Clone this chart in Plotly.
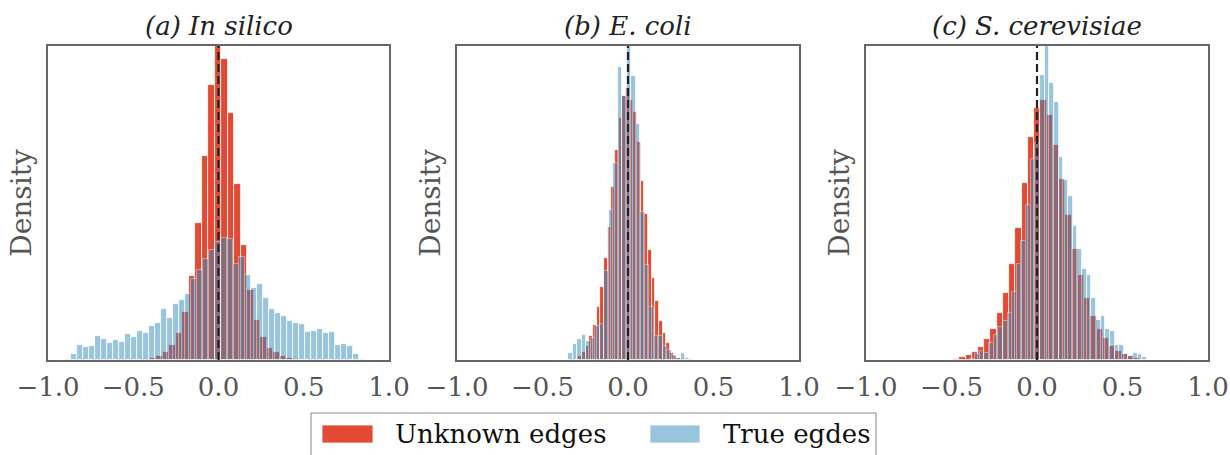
import plotly.graph_objects as go

# ---------------- data (densities) ----------------
panel_titles = ["(a) In silico", "(b) E. coli", "(c) S. cerevisiae"]
series_names = ["Unknown edges", "True egdes"]
tick_vals = [-1.0, -0.5, 0.0, 0.5, 1.0]
tick_text = ["\u22121.0", "\u22120.5", "0.0", "0.5", "1.0"]

# (a) In silico
a_unknown_bin_start = -0.440
a_unknown_bin_width = 0.038
a_unknown = [0.01, 0.03, 0.05, 0.10, 0.19, 0.33, 0.60, 1.04, 1.70, 2.54, 3.41, 3.90,
             3.74, 3.07, 2.19, 1.43, 0.87, 0.50, 0.28, 0.15, 0.10, 0.05, 0.02, 0.01]
a_true_bin_start = -0.898
a_true_bin_width = 0.0352
a_true = [0.01, 0.08, 0.19, 0.16, 0.18, 0.30, 0.26, 0.21, 0.25, 0.22,
          0.32, 0.29, 0.36, 0.34, 0.42, 0.46, 0.63, 0.52, 0.70, 0.75,
          0.82, 1.01, 1.12, 1.25, 1.37, 1.46, 1.51, 1.50, 1.19, 1.28,
          1.06, 0.89, 0.94, 0.77, 0.63, 0.59, 0.55, 0.48, 0.46, 0.45,
          0.35, 0.36, 0.38, 0.33, 0.35, 0.19, 0.20, 0.17, 0.07, 0.01]

# (b) E. coli
b_unknown_bin_start = -0.2915
b_unknown_bin_width = 0.0215
b_unknown = [0.06, 0.13, 0.22, 0.38, 0.56, 0.86, 1.18, 1.64, 2.15, 2.78,
             3.39, 3.90, 4.25, 4.38, 4.19, 3.99, 3.51, 2.88, 2.35, 1.77,
             1.32, 0.95, 0.63, 0.43, 0.28, 0.11, 0.06, 0.04, 0.02]
b_true_bin_start = -0.348
b_true_bin_width = 0.0262
b_true = [0.11, 0.26, 0.34, 0.41, 0.31, 0.36, 0.54, 0.58, 1.44, 2.42,
          3.18, 4.72, 4.25, 5.06, 4.57, 3.81, 2.38, 1.53, 0.86, 0.39,
          0.39, 0.22, 0.16, 0.08, 0.04, 0.11, 0.03, 0.02]

# (c) S. cerevisiae
c_unknown_bin_start = -0.491
c_unknown_bin_width = 0.0365
c_unknown = [0.01, 0.03, 0.05, 0.09, 0.14, 0.23, 0.34, 0.51, 0.73, 1.04,
             1.43, 1.92, 2.42, 2.74, 2.82, 2.66, 2.33, 1.97, 1.57, 1.21,
             0.92, 0.67, 0.48, 0.34, 0.24, 0.15, 0.10, 0.07, 0.04, 0.02]
c_true_bin_start = -0.390
c_true_bin_width = 0.0272
c_true = [0.01, 0.07, 0.10, 0.08, 0.18, 0.27, 0.36, 0.42, 0.51, 0.74,
          1.04, 1.29, 1.68, 2.18, 2.36, 3.09, 3.41, 3.01, 2.80, 2.21,
          1.96, 1.78, 1.45, 1.21, 0.99, 0.92, 0.67, 0.43, 0.48, 0.34,
          0.31, 0.16, 0.16, 0.07, 0.04, 0.08, 0.07, 0.03]

panels = [
    (a_unknown_bin_start, a_unknown_bin_width, a_unknown, a_true_bin_start, a_true_bin_width, a_true),
    (b_unknown_bin_start, b_unknown_bin_width, b_unknown, b_true_bin_start, b_true_bin_width, b_true),
    (c_unknown_bin_start, c_unknown_bin_width, c_unknown, c_true_bin_start, c_true_bin_width, c_true),
]

# ---------------- style ----------------
RED = "#E24A33"
BLUE = "#348ABD"
FRAME = "#666666"
TICK = "#555555"
SERIF = "DejaVu Serif"
W, H = 1230, 455

x_domains = [[48 / W, 389 / W], [457 / W, 799 / W], [866 / W, 1208 / W]]
y_domain = [1 - 360 / H, 1 - 46 / H]

fig = go.Figure()


def centers(start, width, n):
    return [start + width * (i + 0.5) for i in range(n)]


for p, (us, uw, uv, ts, tw, tv) in enumerate(panels):
    xa = "x" if p == 0 else f"x{p + 1}"
    ya = "y" if p == 0 else f"y{p + 1}"
    fig.add_trace(go.Bar(
        x=centers(us, uw, len(uv)), y=uv, width=uw,
        marker=dict(color=RED, line=dict(color="white", width=0.8)),
        name=series_names[0], showlegend=False, xaxis=xa, yaxis=ya,
    ))
    fig.add_trace(go.Bar(
        x=centers(ts, tw, len(tv)), y=tv, width=tw,
        marker=dict(color=BLUE, line=dict(color="white", width=0.8)),
        opacity=0.5,
        name=series_names[1], showlegend=False, xaxis=xa, yaxis=ya,
    ))
    ymax = max(max(uv), max(tv))
    sfx = "" if p == 0 else str(p + 1)
    fig.layout["xaxis" + sfx] = dict(
        domain=x_domains[p], range=[-1, 1], anchor=ya, automargin=False,
        tickvals=tick_vals, ticktext=tick_text, ticks="", ticklabelstandoff=3,
        tickfont=dict(family=SERIF, size=26, color=TICK),
        showgrid=False, zeroline=False,
        showline=True, mirror=True, linecolor=FRAME, linewidth=2,
    )
    fig.layout["yaxis" + sfx] = dict(
        domain=y_domain, range=[0, ymax], anchor=xa, automargin=False,
        showticklabels=False, ticks="", showgrid=False, zeroline=False,
        showline=True, mirror=True, linecolor=FRAME, linewidth=2,
        title=dict(text="Density", standoff=6,
                   font=dict(family=SERIF, size=28, color=TICK)),
    )
    # dashed reference line at zero
    fig.add_shape(type="line", xref=xa, yref=f"{ya} domain", x0=0, x1=0, y0=0, y1=1,
                  line=dict(color="#222222", width=2.2, dash="8px,4px"), layer="above")
    # panel title
    fig.add_annotation(text=f"<i>{panel_titles[p]}</i>", xref="paper", yref="paper",
                       x=sum(x_domains[p]) / 2, y=1 - 26 / H, showarrow=False,
                       xanchor="center", yanchor="middle",
                       font=dict(family=SERIF, size=26, color="#222222"))

# ---------------- legend (drawn manually, matplotlib style) ----------------
fig.add_shape(type="rect", xref="paper", yref="paper",
              x0=311 / W, x1=876 / W, y0=1 - 470 / H, y1=1 - 413 / H,
              line=dict(color="#888888", width=1), fillcolor="white", layer="above")
legend_items = [(RED, 1.0, series_names[0], 322, 373, 393),
                (BLUE, 0.5, series_names[1], 650, 700, 721)]
for col, op, label, sx0, sx1, tx in legend_items:
    fig.add_shape(type="rect", xref="paper", yref="paper",
                  x0=sx0 / W, x1=sx1 / W, y0=1 - 443 / H, y1=1 - 425 / H,
                  line=dict(color="white", width=0.8), fillcolor=col, opacity=op, layer="above")
    fig.add_annotation(text=label, xref="paper", yref="paper", x=tx / W, y=1 - 434 / H,
                       xanchor="left", yanchor="middle", showarrow=False,
                       font=dict(family=SERIF, size=26, color="#111111"))

fig.update_layout(
    width=W, height=H, barmode="overlay", bargap=0,
    paper_bgcolor="white", plot_bgcolor="white",
    margin=dict(l=0, r=0, t=0, b=0), showlegend=False,
)

fig.write_html("out.html", config={"displayModeBar": False},
               post_script="document.body.style.margin='0';document.body.style.overflow='hidden';")
